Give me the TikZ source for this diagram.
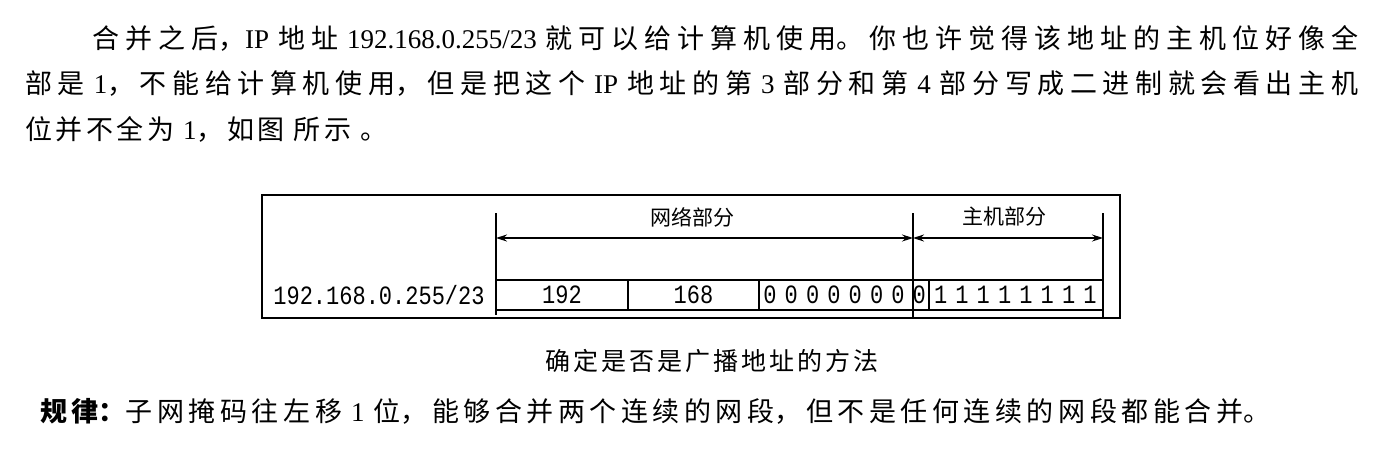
\documentclass[tikz,border=0pt]{standalone}
\usepackage{fontspec}
\setmainfont{Liberation Serif}
\newfontfamily\cjk{Noto Sans CJK SC}
\newfontfamily\monof{Liberation Mono}
\usetikzlibrary{arrows.meta}
\XeTeXlinebreaklocale "zh"
\XeTeXlinebreakskip=0pt plus 1fil
\newcommand\zh[1]{{\cjk #1}}
\tikzset{
  para/.style={anchor=west, inner sep=0pt, font=\fontsize{27}{32}\selectfont},
  cell/.style={draw, line width=2.4pt, inner sep=0pt, minimum height=30pt},
  mono/.style={inner sep=0pt, font=\monof\fontsize{22}{24}\selectfont},
  lab/.style={inner sep=0pt, font=\cjk\fontsize{21}{24}\selectfont},
  vline/.style={line width=1.2pt},
  dim/.style={line width=1.2pt, {Stealth[length=11pt,width=7pt]}-{Stealth[length=11pt,width=7pt]}}
}
\begin{document}
\begin{tikzpicture}[x=1pt,y=-1pt]
\useasboundingbox (0,0) rectangle (1391,456);
\fill[white] (0,0) rectangle (1391,456);

% paragraph
\node[para, text width=1266pt] (l1) at (92,38) {\parfillskip=0pt
\zh{合并之后，}IP \zh{地址} 192.168.0.255/23 \zh{就可以给计算机使用。你也许觉得该地址的主机位好像全}\par};
\node[para, text width=1333pt] (l2) at (25,84) {\parfillskip=0pt
\zh{部是} 1\zh{，不能给计算机使用，但是把这个} IP \zh{地址的第} 3 \zh{部分和第} 4 \zh{部分写成二进制就会看出主机}\par};
\node[para, text width=600pt] (l3) at (25,129) {\XeTeXlinebreakskip=3.5pt
\zh{位并不全为} 1\zh{，如图} \zh{所示} \zh{。}\par};

% diagram frame
\node[draw, line width=1.3pt, inner sep=0pt, minimum width=858pt, minimum height=123pt] (frame) at (691,256.5) {};
\node[mono, font=\monof\fontsize{22}{24}\selectfont] (addr) at (379,295) {\scalebox{1}[1.2]{192.168.0.255/23}};

\node[cell, minimum width=132pt] (c1) at (562,295) {};
\node[cell, minimum width=131pt] (c2) at (693.5,295) {};
\node[cell, minimum width=170pt] (c3) at (844,295) {};
\node[cell, minimum width=174pt] (c4) at (1016,295) {};
\node[mono] (t1) at (c1) {\scalebox{1}[1.2]{192}};
\node[mono] (t2) at (c2) {\scalebox{1}[1.2]{168}};
\foreach \i in {0,...,7} \node[mono] (b\i) at ({770+21.33*\i},295) {\scalebox{1}[1.2]{0}};
\foreach \i in {8,...,15} \node[mono] (b\i) at ({770+21.33*\i},295) {\scalebox{1}[1.2]{1}};

% dimension lines
\coordinate (nt) at (496,213); \coordinate (nb) at (496,315);
\coordinate (mt) at (913,213); \coordinate (mb) at (913,317);
\coordinate (ht) at (1103,213); \coordinate (hb) at (1103,317);
\draw[vline] (nt) -- (nb);
\draw[vline] (mt) -- (mb);
\draw[vline] (ht) -- (hb);
\coordinate (na) at (496,238);
\coordinate (ma) at (913,238);
\coordinate (ha) at (1103,238);
\draw[dim] (na) -- (ma);
\draw[dim] (ma) -- (ha);
\node[lab] (netlab) at (692,217) {网络部分};
\node[lab] (hostlab) at (1004,217) {主机部分};

% caption and rule
\node[inner sep=0pt, text width=500pt, align=center, font=\cjk\fontsize{25}{28}\selectfont] (cap) at (712,361) {\XeTeXlinebreakskip=3pt 确定是否是广播地址的方法\par};
\node[para, text width=1230pt] (rule) at (40,411) {\parfillskip=0pt
{\cjk\bfseries 规律：}\zh{子网掩码往左移} 1 \zh{位，能够合并两个连续的网段，但不是任何连续的网段都能合并。}\par};
\end{tikzpicture}
\end{document}
